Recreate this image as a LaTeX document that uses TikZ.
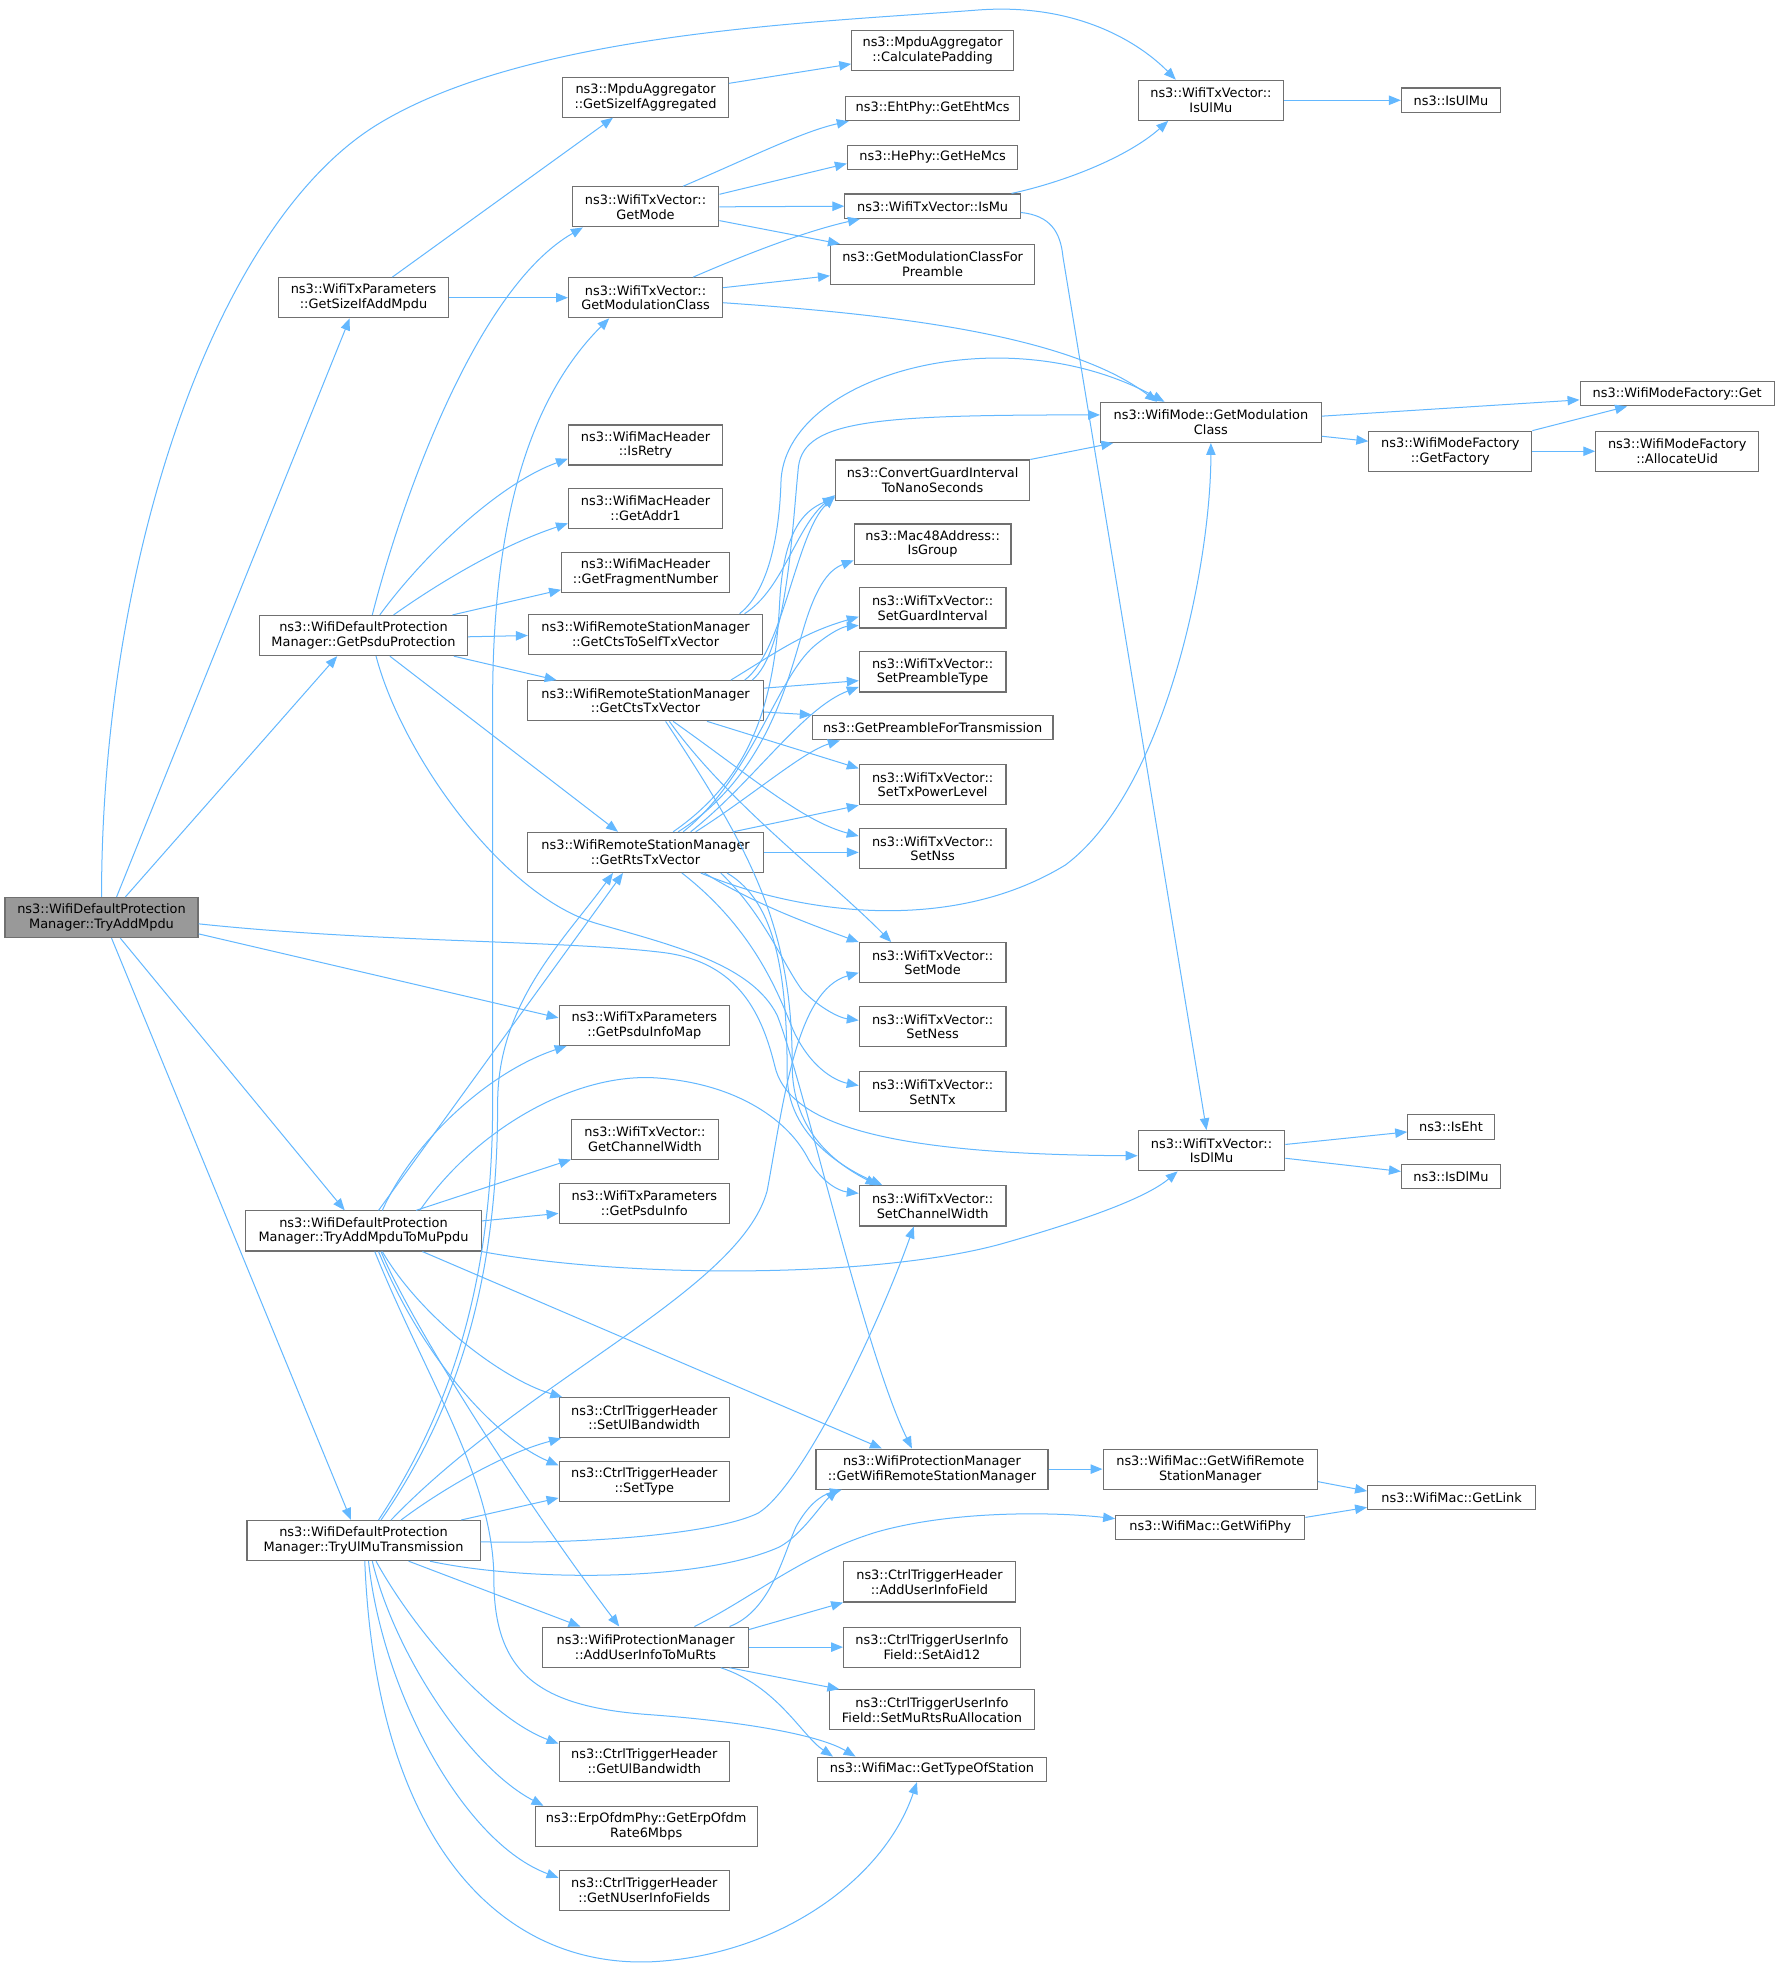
\documentclass[tikz,border=0pt]{standalone}
\usepackage{fontspec}
\setmainfont{DejaVu Sans}
\usetikzlibrary{arrows.meta}
\definecolor{edgeblue}{HTML}{63B8FF}
\definecolor{boxgray}{HTML}{707070}
\definecolor{rootfill}{HTML}{999999}
\tikzset{
  fn/.style={draw=boxgray, line width=0.9pt, fill=white, align=center, inner sep=0pt,
    minimum height=32pt, font=\fontsize{10.3}{11.8}\selectfont},
  fnone/.style={fn, minimum height=19.5pt},
  rootfn/.style={fn, fill=rootfill},
  e/.style={draw=edgeblue, line width=0.8pt, -{Triangle[length=9.5pt,width=7.5pt]}}
}
\begin{document}
\begin{tikzpicture}[x=1pt,y=-1pt]
\fill[white] (0,0) rectangle (1420,1568.4);
\useasboundingbox (0,0) rectangle (1420,1568.4);
% ---- column A/B
\node[rootfn, minimum width=154pt] (T) at (81,732) {ns3::WifiDefaultProtection\\Manager::TryAddMpdu};
\node[fn, minimum width=136pt] (GSA) at (290,237.5) {ns3::WifiTxParameters\\::GetSizeIfAddMpdu};
\node[fn, minimum width=166pt] (GPP) at (290,507) {ns3::WifiDefaultProtection\\Manager::GetPsduProtection};
\node[fn, minimum width=188pt] (TAM) at (290,982) {ns3::WifiDefaultProtection\\Manager::TryAddMpduToMuPpdu};
\node[fn, minimum width=186pt] (TUL) at (290,1229) {ns3::WifiDefaultProtection\\Manager::TryUlMuTransmission};
% ---- column C
\node[fn, minimum width=132pt] (GSAgg) at (515,77.5) {ns3::MpduAggregator\\::GetSizeIfAggregated};
\node[fn, minimum width=117pt] (GMode) at (515,165) {ns3::WifiTxVector::\\GetMode};
\node[fn, minimum width=123pt] (GMC) at (515,237.5) {ns3::WifiTxVector::\\GetModulationClass};
\node[fn, minimum width=123pt] (IsRetry) at (515,355) {ns3::WifiMacHeader\\::IsRetry};
\node[fn, minimum width=123pt] (GetAddr) at (515,405.5) {ns3::WifiMacHeader\\::GetAddr1};
\node[fn, minimum width=134pt] (GetFrag) at (515,456.5) {ns3::WifiMacHeader\\::GetFragmentNumber};
\node[fn, minimum width=187pt] (GCTSS) at (515,506) {ns3::WifiRemoteStationManager\\::GetCtsToSelfTxVector};
\node[fn, minimum width=188pt] (GCTS) at (515,559) {ns3::WifiRemoteStationManager\\::GetCtsTxVector};
\node[fn, minimum width=188pt] (GRTS) at (515,680) {ns3::WifiRemoteStationManager\\::GetRtsTxVector};
\node[fn, minimum width=136pt] (GPIM) at (514,818) {ns3::WifiTxParameters\\::GetPsduInfoMap};
\node[fn, minimum width=117pt] (GCW) at (514.5,909) {ns3::WifiTxVector::\\GetChannelWidth};
\node[fn, minimum width=136pt] (GPI) at (514,960) {ns3::WifiTxParameters\\::GetPsduInfo};
\node[fn, minimum width=136pt] (SUB) at (514,1131) {ns3::CtrlTriggerHeader\\::SetUlBandwidth};
\node[fn, minimum width=136pt] (STy) at (514,1182) {ns3::CtrlTriggerHeader\\::SetType};
\node[fn, minimum width=164pt] (AUIMR) at (515,1314) {ns3::WifiProtectionManager\\::AddUserInfoToMuRts};
\node[fn, minimum width=136pt] (GUB) at (514,1405) {ns3::CtrlTriggerHeader\\::GetUlBandwidth};
\node[fn, minimum width=177pt] (GErp) at (515.5,1457) {ns3::ErpOfdmPhy::GetErpOfdm\\Rate6Mbps};
\node[fn, minimum width=136pt] (GNUIF) at (514,1508) {ns3::CtrlTriggerHeader\\::GetNUserInfoFields};
% ---- column D
\node[fn, minimum width=129pt] (CalcPad) at (744,40) {ns3::MpduAggregator\\::CalculatePadding};
\node[fnone, minimum width=139pt] (EhtMcs) at (744,86.5) {ns3::EhtPhy::GetEhtMcs};
\node[fnone, minimum width=136pt] (HeMcs) at (744,125.5) {ns3::HePhy::GetHeMcs};
\node[fnone, minimum width=140pt] (IsMu) at (744,164.5) {ns3::WifiTxVector::IsMu};
\node[fn, minimum width=163pt] (GMCFP) at (744,211) {ns3::GetModulationClassFor\\Preamble};
\node[fn, minimum width=155pt] (ConvGI) at (744,383) {ns3::ConvertGuardInterval\\ToNanoSeconds};
\node[fn, minimum width=125pt] (IsGroup) at (744,434) {ns3::Mac48Address::\\IsGroup};
\node[fn, minimum width=117pt] (SetGI) at (744,485) {ns3::WifiTxVector::\\SetGuardInterval};
\node[fn, minimum width=117pt] (SetPT) at (744,536) {ns3::WifiTxVector::\\SetPreambleType};
\node[fnone, minimum width=192pt] (GPFT) at (744,580.5) {ns3::GetPreambleForTransmission};
\node[fn, minimum width=117pt] (SetTxPL) at (744,626) {ns3::WifiTxVector::\\SetTxPowerLevel};
\node[fn, minimum width=117pt] (SetNss) at (744,677) {ns3::WifiTxVector::\\SetNss};
\node[fn, minimum width=117pt] (SetMode) at (744,768) {ns3::WifiTxVector::\\SetMode};
\node[fn, minimum width=117pt] (SetNess) at (744,819) {ns3::WifiTxVector::\\SetNess};
\node[fn, minimum width=117pt] (SetNTx) at (744,871) {ns3::WifiTxVector::\\SetNTx};
\node[fn, minimum width=117pt] (SetCW) at (744,962) {ns3::WifiTxVector::\\SetChannelWidth};
\node[fn, minimum width=185pt] (GWRSM) at (743.5,1172) {ns3::WifiProtectionManager\\::GetWifiRemoteStationManager};
\node[fn, minimum width=137pt] (AUIF) at (741.5,1262) {ns3::CtrlTriggerHeader\\::AddUserInfoField};
\node[fn, minimum width=141pt] (SetAid) at (743.5,1314) {ns3::CtrlTriggerUserInfo\\Field::SetAid12};
\node[fn, minimum width=163pt] (SetMuRts) at (743.5,1364) {ns3::CtrlTriggerUserInfo\\Field::SetMuRtsRuAllocation};
\node[fnone, minimum width=183pt] (GTOS) at (743.5,1411.5) {ns3::WifiMac::GetTypeOfStation};
% ---- column E
\node[fn, minimum width=116pt] (IsUlMuV) at (966,80) {ns3::WifiTxVector::\\IsUlMu};
\node[fn, minimum width=176pt] (WMGMC) at (966,337) {ns3::WifiMode::GetModulation\\Class};
\node[fn, minimum width=117pt] (IsDlMuV) at (966.5,918) {ns3::WifiTxVector::\\IsDlMu};
\node[fn, minimum width=171pt] (WMGWRSM) at (965.5,1172) {ns3::WifiMac::GetWifiRemote\\StationManager};
\node[fnone, minimum width=151pt] (GWPhy) at (965.5,1218.5) {ns3::WifiMac::GetWifiPhy};
% ---- column F
\node[fnone, minimum width=79pt] (IsUlMuF) at (1157.5,80) {ns3::IsUlMu};
\node[fn, minimum width=130pt] (GetFactory) at (1157,360) {ns3::WifiModeFactory\\::GetFactory};
\node[fnone, minimum width=69pt] (IsEht) at (1157.5,899) {ns3::IsEht};
\node[fnone, minimum width=79pt] (IsDlMuF) at (1157.5,938.5) {ns3::IsDlMu};
\node[fnone, minimum width=134pt] (GetLink) at (1158,1194.5) {ns3::WifiMac::GetLink};
% ---- column G
\node[fnone, minimum width=155pt] (WMFGet) at (1338,314) {ns3::WifiModeFactory::Get};
\node[fn, minimum width=130pt] (AllocUid) at (1338,360) {ns3::WifiModeFactory\\::AllocateUid};

% ================= edges
% TryAddMpdu
\draw[e] (T.north) .. controls (81,450) and (170,181) .. (300,100) .. controls (420,25.6) and (650,18) .. (780,8) .. controls (860,2) and (910,35) .. ([xshift=-28pt]IsUlMuV.north);
\draw[e] ([xshift=12pt]T.north) -- ([xshift=-11pt]GSA.south);
\draw[e] ([xshift=19pt]T.north) -- ([xshift=-21pt]GPP.south);
\draw[e] ([yshift=-13pt]T.east) -- ([yshift=6pt]GPIM.west);
\draw[e] ([yshift=-5pt]T.east) .. controls (300,752) and (450,750) .. (530,760) .. controls (590,768) and (608,810) .. (618,850) .. controls (628,895) and (700,921) .. ([yshift=-4pt]IsDlMuV.west);
\draw[e] ([xshift=15pt]T.south) -- ([xshift=-15pt]TAM.north);
\draw[e] ([xshift=8pt]T.south) -- ([xshift=-10pt]TUL.north);
% GetSizeIfAddMpdu / aggregator
\draw[e] ([xshift=23pt]GSA.north) -- ([xshift=-26pt]GSAgg.south);
\draw[e] (GSA.east) -- (GMC.west);
\draw[e] ([yshift=11pt]GSAgg.east) -- ([yshift=-11pt]CalcPad.west);
% GetMode
\draw[e] ([xshift=30pt]GMode.north) .. controls (600,125) and (640,105) .. ([xshift=3pt]EhtMcs.south west);
\draw[e] ([yshift=10pt]GMode.east) -- ([yshift=-5pt]HeMcs.west);
\draw[e] (GMode.east) -- (IsMu.west);
\draw[e] ([yshift=-11pt]GMode.east) -- ([xshift=8pt]GMCFP.north west);
% GetModulationClass
\draw[e] ([xshift=38pt]GMC.north) .. controls (590,205) and (640,185) .. ([xshift=-58pt]IsMu.south);
\draw[e] ([yshift=8pt]GMC.east) -- ([yshift=-9pt]GMCFP.west);
\draw[e] ([yshift=-4pt]GMC.east) .. controls (700,250) and (850,265) .. ([xshift=-43pt]WMGMC.north);
% IsMu
\draw[e] ([xshift=63pt]IsMu.north) .. controls (850,145) and (900,125) .. ([xshift=-34pt]IsUlMuV.south);
\draw[e] ([yshift=-5pt]IsMu.east) .. controls (838,172) and (846,185) .. (848,205) -- ([xshift=-4pt]IsDlMuV.north);
\draw[e] (IsUlMuV.east) -- (IsUlMuF.west);
% WifiMode
\draw[e] ([yshift=5pt]WMGMC.east) -- ([yshift=-5pt]WMFGet.west);
\draw[e] ([yshift=-11pt]WMGMC.east) -- ([yshift=8pt]GetFactory.west);
\draw[e] (GetFactory.north east) -- ([xshift=-40pt]WMFGet.south);
\draw[e] (GetFactory.east) -- (AllocUid.west);
\draw[e] (ConvGI.north east) -- ([xshift=-78pt]WMGMC.south);
% GetPsduProtection
\draw[e] ([xshift=7pt]GPP.north) .. controls (320,400) and (380,230) .. ([xshift=-50pt]GMode.south);
\draw[e] ([xshift=13pt]GPP.north) .. controls (340,440) and (400,385) .. ([yshift=-11pt]IsRetry.west);
\draw[e] ([xshift=24pt]GPP.north) .. controls (350,465) and (400,435) .. ([yshift=-12pt]GetAddr.west);
\draw[e] ([xshift=71pt]GPP.north) -- ([yshift=-14pt]GetFrag.west);
\draw[e] ([yshift=-1pt]GPP.east) -- ([yshift=-1pt]GCTSS.west);
\draw[e] ([xshift=72pt]GPP.south) -- ([xshift=-71pt]GCTS.north);
\draw[e] ([xshift=21pt]GPP.south) -- ([xshift=-22pt]GRTS.north);
\draw[e] ([xshift=10pt]GPP.south) .. controls (320,600) and (400,715) .. (477,737) .. controls (540,755) and (600,770) .. (620,810) .. controls (640,860) and (690,1080) .. ([xshift=-16pt]GWRSM.north);
% GetCtsToSelfTxVector
\draw[e] ([xshift=79pt]GCTSS.north) .. controls (625,470) and (635,420) .. ([yshift=-12pt]ConvGI.west);
\draw[e] ([xshift=75pt]GCTSS.north) .. controls (615,470) and (622,420) .. (623,385) .. controls (625,300) and (800,250) .. ([xshift=-37pt]WMGMC.north);
% GetCtsTxVector
\draw[e] ([xshift=85pt]GCTS.north) .. controls (628,520) and (632,420) .. (637,372) .. controls (642,335) and (700,331) .. ([yshift=6pt]WMGMC.west);
\draw[e] ([xshift=79pt]GCTS.north) .. controls (625,520) and (635,425) .. ([yshift=-13pt]ConvGI.west);
\draw[e] ([xshift=68pt]GCTS.north) .. controls (620,520) and (640,505) .. ([yshift=-7pt]SetGI.west);
\draw[e] ([yshift=10pt]GCTS.east) -- ([yshift=-7pt]SetPT.west);
\draw[e] ([yshift=-9pt]GCTS.east) -- (GPFT.north west);
\draw[e] ([xshift=49pt]GCTS.south) -- ([yshift=13pt]SetTxPL.west);
\draw[e] ([xshift=22pt]GCTS.south) .. controls (600,620) and (640,655) .. ([yshift=10pt]SetNss.west);
\draw[e] ([xshift=19pt]GCTS.south) .. controls (580,640) and (660,700) .. ([xshift=-33pt]SetMode.north);
\draw[e] ([xshift=16pt]GCTS.south) .. controls (600,680) and (632,740) .. (632,850) .. controls (632,905) and (670,930) .. ([xshift=-44pt]SetCW.north);
% GetRtsTxVector
\draw[e] ([xshift=26pt]GRTS.north) .. controls (610,620) and (628,545) .. (640,505) .. controls (650,470) and (660,455) .. ([yshift=-13pt]IsGroup.west);
\draw[e] ([xshift=22pt]GRTS.north) .. controls (600,620) and (618,560) .. (622,480) .. controls (625,425) and (640,408) .. ([yshift=-14pt]ConvGI.west);
\draw[e] ([xshift=30pt]GRTS.north) .. controls (600,620) and (620,540) .. (650,515) .. controls (662,505) and (672,500) .. ([yshift=-14pt]SetGI.west);
\draw[e] ([xshift=36pt]GRTS.north) .. controls (600,625) and (640,565) .. ([yshift=-12pt]SetPT.west);
\draw[e] ([xshift=40pt]GRTS.north) .. controls (600,635) and (640,600) .. ([xshift=-74pt]GPFT.south);
\draw[e] ([xshift=70pt]GRTS.north) -- (SetTxPL.south west);
\draw[e] (GRTS.east) -- ([yshift=-3pt]SetNss.west);
\draw[e] ([xshift=44pt]GRTS.south) .. controls (640,730) and (760,745) .. (850,690) .. controls (930,630) and (966,450) .. (WMGMC.south);
\draw[e] ([xshift=47pt]GRTS.south) .. controls (600,720) and (640,735) .. (SetMode.north west);
\draw[e] ([xshift=60pt]GRTS.south) .. controls (610,730) and (625,770) .. (640,790) .. controls (655,805) and (670,812) .. ([yshift=5pt]SetNess.west);
\draw[e] ([xshift=29pt]GRTS.south) .. controls (600,740) and (620,790) .. (632,820) .. controls (645,850) and (665,862) .. ([yshift=5pt]SetNTx.west);
\draw[e] ([xshift=65pt]GRTS.south) .. controls (620,720) and (628,780) .. (628,860) .. controls (630,910) and (680,935) .. ([xshift=-40pt]SetCW.north);
% TryAddMpduToMuPpdu
\draw[e] ([xshift=12pt]TAM.north) -- ([xshift=-18pt]GRTS.south);
\draw[e] ([xshift=15pt]TAM.north) .. controls (330,910) and (390,855) .. ([xshift=-62pt]GPIM.south);
\draw[e] ([xshift=45pt]TAM.north) .. controls (380,900) and (460,855) .. (525,860) .. controls (590,865) and (630,895) .. (645,925) .. controls (655,942) and (668,950) .. ([yshift=10pt]SetCW.west);
\draw[e] ([xshift=42pt]TAM.north) -- ([yshift=-16pt]GCW.west);
\draw[e] ([yshift=8pt]TAM.east) -- ([yshift=-8pt]GPI.west);
\draw[e] (TAM.south east) .. controls (500,1020) and (700,1020) .. (800,992) .. controls (870,972) and (915,955) .. ([xshift=-27pt]IsDlMuV.south);
\draw[e] ([xshift=47pt]TAM.south) -- ([xshift=-40pt]GWRSM.north);
\draw[e] ([xshift=15pt]TAM.south) .. controls (335,1050) and (400,1100) .. ([xshift=3pt]SUB.north west);
\draw[e] ([xshift=12pt]TAM.south) .. controls (340,1090) and (400,1150) .. ([yshift=13pt]STy.west);
\draw[e] ([xshift=14pt]TAM.south) .. controls (330,1060) and (420,1200) .. ([xshift=-21pt]AUIMR.north);
\draw[e] ([xshift=9pt]TAM.south) .. controls (340,1100) and (394,1180) .. (394,1260) .. controls (394,1335) and (430,1362) .. (520,1368) .. controls (600,1374) and (655,1385) .. ([xshift=-61pt]GTOS.north);
% TryUlMuTransmission
\draw[e] ([xshift=12pt]TUL.north) .. controls (370,1110) and (393,1000) .. (393,880) -- (393,560) .. controls (393,420) and (420,320) .. ([xshift=-29pt]GMC.south);
\draw[e] ([xshift=14pt]TUL.north) .. controls (375,1110) and (397,1000) .. (397,880) .. controls (397,800) and (450,750) .. ([xshift=-26pt]GRTS.south);
\draw[e] ([xshift=22pt]TUL.north) .. controls (420,1100) and (590,1030) .. (612,950) .. controls (625,880) and (635,790) .. ([yshift=-8pt]SetMode.west);
\draw[e] ([xshift=30pt]TUL.north) .. controls (350,1190) and (400,1160) .. ([xshift=2pt]SUB.south west);
\draw[e] ([xshift=78pt]TUL.north) -- ([yshift=-13pt]STy.west);
\draw[e] ([yshift=-1pt]TUL.east) .. controls (480,1232) and (575,1222) .. (605,1207) .. controls (640,1185) and (700,1060) .. ([xshift=-15pt]SetCW.south);
\draw[e] ([xshift=53pt]TUL.south) .. controls (420,1262) and (560,1262) .. (622,1234) .. controls (640,1224) and (655,1200) .. ([xshift=-75pt]GWRSM.south);
\draw[e] ([xshift=36pt]TUL.south) -- ([xshift=-52pt]AUIMR.north);
\draw[e] ([xshift=10pt]TUL.south) .. controls (330,1300) and (390,1370) .. ([yshift=14pt]GUB.west);
\draw[e] ([xshift=7pt]TUL.south) .. controls (315,1320) and (375,1410) .. ([xshift=7pt]GErp.north west);
\draw[e] ([xshift=4pt]TUL.south) .. controls (305,1350) and (370,1470) .. ([yshift=10pt]GNUIF.west);
\draw[e] ([xshift=1pt]TUL.south) .. controls (300,1470) and (400,1570) .. (520,1565) .. controls (620,1560) and (705,1500) .. ([xshift=-12pt]GTOS.south);
% AddUserInfoToMuRts
\draw[e] ([xshift=67pt]AUIMR.north) .. controls (615,1285) and (625,1240) .. (635,1218) .. controls (645,1200) and (655,1193) .. ([xshift=-72pt]GWRSM.south);
\draw[e] ([xshift=39pt]AUIMR.north) .. controls (600,1275) and (640,1240) .. (700,1222) .. controls (760,1205) and (840,1206) .. ([yshift=7pt]GWPhy.west);
\draw[e] ([yshift=14pt]AUIMR.east) -- (AUIF.south west);
\draw[e] (AUIMR.east) -- (SetAid.west);
\draw[e] ([xshift=67pt]AUIMR.south) -- ([xshift=8pt]SetMuRts.north west);
\draw[e] ([xshift=60pt]AUIMR.south) .. controls (620,1345) and (640,1385) .. ([xshift=-79pt]GTOS.north);
% WifiMac
\draw[e] (GWRSM.east) -- (WMGWRSM.west);
\draw[e] ([yshift=-10pt]WMGWRSM.east) -- ([yshift=5pt]GetLink.west);
\draw[e] ([yshift=8pt]GWPhy.east) -- ([yshift=-8pt]GetLink.west);
% IsDlMu
\draw[e] ([yshift=5pt]IsDlMuV.east) -- ([yshift=-4pt]IsEht.west);
\draw[e] ([yshift=-6pt]IsDlMuV.east) -- ([yshift=4pt]IsDlMuF.west);
\end{tikzpicture}
\end{document}
